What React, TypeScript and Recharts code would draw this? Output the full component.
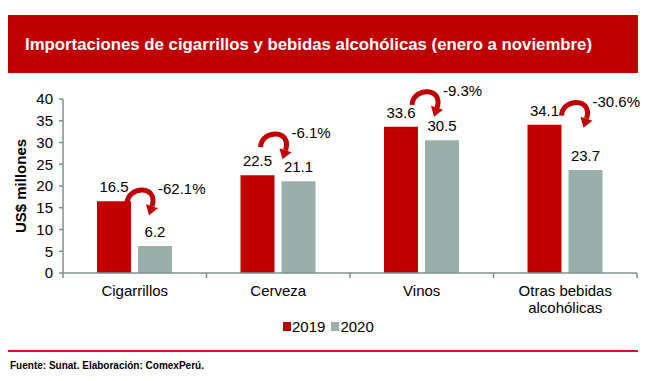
import { BarChart, Bar, XAxis, YAxis, Legend, LabelList } from 'recharts'

const categories = ['Cigarrillos', 'Cerveza', 'Vinos', 'Otras bebidas alcohólicas']
const values2019 = [16.5, 22.5, 33.6, 34.1]
const values2020 = [6.2, 21.1, 30.5, 23.7]
const variation = ['-62.1%', '-6.1%', '-9.3%', '-30.6%']
const yTicks = [0, 5, 10, 15, 20, 25, 30, 35, 40]

const data = categories.map((name, i) => ({
	name,
	y2019: values2019[i],
	y2020: values2020[i],
	change: variation[i],
}))

const W = 652
const H = 381
const RED = '#c00000'
const GREY = '#9aafab'
const AXIS = '#7a9292'
const FONT = '"Liberation Sans", Arial, sans-serif'
const MARGIN = { top: 99, right: 15, bottom: 68, left: 13 }
const Y_AXIS_W = 50
const PLOT_W = W - MARGIN.left - MARGIN.right - Y_AXIS_W

// where each curved arrow starts, relative to the top-right corner of the 2019 bar
const arrowShift: Record<string, [number, number]> = {
	'-62.1%': [-4, 2],
	'-6.1%': [-14, -28],
	'-9.3%': [-6, -22],
	'-30.6%': [0, -9],
}

const wrap = (label: string, max = 14) => {
	const lines: string[] = []
	label.split(' ').forEach(w => {
		const last = lines[lines.length - 1]
		if (last && (last + ' ' + w).length <= max) lines[lines.length - 1] = last + ' ' + w
		else lines.push(w)
	})
	return lines
}

const CategoryTick = ({ x, y, payload }: any) => {
	const band = PLOT_W / categories.length
	const lines = wrap(payload.value)
	const isLast = payload.value === categories[categories.length - 1]
	return (
		<g>
			<line x1={x - band / 2} x2={x - band / 2} y1={y} y2={y + 5} stroke={AXIS} strokeWidth={1.5} />
			{isLast && <line x1={x + band / 2} x2={x + band / 2} y1={y} y2={y + 5} stroke={AXIS} strokeWidth={1.5} />}
			<text x={x} y={y + 23} textAnchor="middle" fontSize={15} fill="#000" fontFamily={FONT}>
				{lines.map((l, i) => (
					<tspan key={i} x={x} dy={i ? 17 : 0}>{l}</tspan>
				))}
			</text>
		</g>
	)
}

const ChangeArrow = (props: any) => {
	const { x, y, width, value } = props
	const shift = arrowShift[value]
	if (!shift) return null
	const sx = x + width + shift[0]
	const sy = y + shift[1]
	return (
		<g>
			<path
				d={`M${sx},${sy} C${sx + 1},${sy - 18} ${sx + 32},${sy - 18} ${sx + 25},${sy + 3}`}
				fill="none"
				stroke={RED}
				strokeWidth={5}
			/>
			<path
				d={`M${sx + 19},${sy + 1} L${sx + 31},${sy + 5} L${sx + 22},${sy + 12} Z`}
				fill={RED}
			/>
			<text x={sx + 31} y={sy - 9} fontSize={15} fill="#000" fontFamily={FONT}>{value}</text>
		</g>
	)
}

const LegendContent = ({ payload }: any) => (
	<div style={{ display: 'flex', fontFamily: FONT, fontSize: 15, lineHeight: '15px', color: '#000' }}>
		{(payload || []).map((p: any) => (
			<span key={p.value} style={{ display: 'flex', alignItems: 'center', marginRight: 6 }}>
				<span style={{ width: 8, height: 9, background: p.color, marginRight: 1 }} />
				{p.value}
			</span>
		))}
	</div>
)

export default function App() {
	return (
		<div style={{ position: 'absolute', left: 0, top: 0, width: W, height: H, background: '#fff' }}>
			<BarChart
				width={W}
				height={H}
				data={data}
				margin={MARGIN}
				barSize={34}
				barGap={7}
				style={{ fontFamily: FONT }}
			>
				<YAxis
					width={Y_AXIS_W}
					domain={[0, 40]}
					ticks={yTicks}
					interval={0}
					tick={{ fontSize: 15, fill: '#000', fontFamily: FONT }}
					axisLine={{ stroke: AXIS, strokeWidth: 1.5 }}
					tickLine={{ stroke: AXIS, strokeWidth: 1.5 }}
					tickSize={4}
					tickMargin={6}
					label={{
						value: 'US$ millones',
						angle: -90,
						position: 'center',
						dx: -17,
						style: { fontSize: 15, fontWeight: 'bold', fill: '#000', fontFamily: FONT },
					}}
				/>
				<XAxis
					dataKey="name"
					height={40}
					interval={0}
					axisLine={{ stroke: AXIS, strokeWidth: 1.5 }}
					tickLine={false}
					tickSize={0}
					tickMargin={0}
					tick={<CategoryTick />}
				/>
				<Legend
					layout="horizontal"
					verticalAlign="middle"
					align="center"
					content={<LegendContent />}
					wrapperStyle={{ position: 'absolute', top: 319, left: 283, width: 'auto' }}
				/>
				<Bar dataKey="y2019" name="2019" fill={RED} isAnimationActive={false}>
					<LabelList dataKey="y2019" position="top" offset={9} fontSize={15} fill="#000" fontFamily={FONT} />
					<LabelList dataKey="change" content={<ChangeArrow />} />
				</Bar>
				<Bar dataKey="y2020" name="2020" fill={GREY} isAnimationActive={false}>
					<LabelList dataKey="y2020" position="top" offset={9} fontSize={15} fill="#000" fontFamily={FONT} />
				</Bar>
			</BarChart>
			<svg width={W} height={H} style={{ position: 'absolute', left: 0, top: 0, pointerEvents: 'none' }}>
				<rect x={8} y={15} width={630} height={58} fill={RED} />
				<text
					x={25}
					y={50}
					fill="#fff"
					fontSize={17}
					fontWeight="bold"
					fontFamily={FONT}
					textLength={567}
					lengthAdjust="spacingAndGlyphs"
				>
					Importaciones de cigarrillos y bebidas alcohólicas (enero a noviembre)
				</text>
				<rect x={8} y={350} width={630} height={2} fill="#d4122f" />
				<text x={10} y={369} fill="#000" fontSize={10} fontWeight="bold" fontFamily={FONT}>
					Fuente: Sunat. Elaboración: ComexPerú.
				</text>
			</svg>
		</div>
	)
}
